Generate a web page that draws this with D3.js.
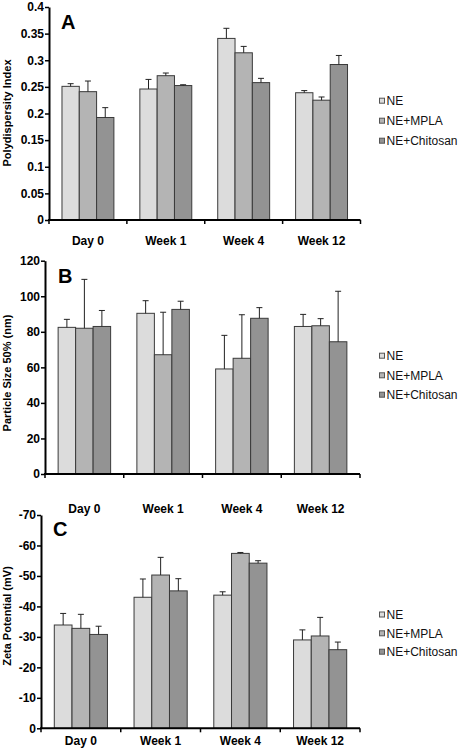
<!DOCTYPE html>
<html>
<head>
<meta charset="utf-8">
<script src="https://cdn.jsdelivr.net/npm/d3@7/dist/d3.min.js"></script>
<style>
  html, body { margin: 0; padding: 0; background: #fff; }
  svg { display: block; font-family: "Liberation Sans", Arial, sans-serif; }
</style>
</head>
<body>
<svg id="chart" width="458" height="750"></svg>
<script>
// ---------- DATA ----------
const categories = ["Day 0", "Week 1", "Week 4", "Week 12"];
const seriesNames = ["NE", "NE+MPLA", "NE+Chitosan"];

// Panel A: Polydispersity Index (rows = series, cols = categories)
const pdiMean = [
  [0.251, 0.246, 0.341, 0.239],
  [0.241, 0.271, 0.314, 0.225],
  [0.1925, 0.2525, 0.258, 0.292]
];
const pdiErr = [
  [0.005, 0.018, 0.019, 0.004],
  [0.020, 0.005, 0.012, 0.006],
  [0.0185, 0.0015, 0.008, 0.017]
];
const pdiTicks = [0, 0.05, 0.1, 0.15, 0.2, 0.25, 0.3, 0.35, 0.4];

// Panel B: Particle Size 50% (nm)
const sizeMean = [
  [82.5, 90.4, 59.1, 83.0],
  [82.0, 67.1, 65.1, 83.4],
  [83.0, 92.6, 87.6, 74.4]
];
const sizeErr = [
  [4.5, 7.1, 18.9, 6.8],
  [27.5, 23.9, 24.5, 4.0],
  [9.0, 4.6, 6.0, 28.4]
];
const sizeTicks = [0, 20, 40, 60, 80, 100, 120];

// Panel C: Zeta Potential (mV)
const zetaMean = [
  [-33.9, -43.0, -43.7, -29.0],
  [-32.8, -50.3, -57.4, -30.3],
  [-30.8, -45.1, -54.2, -25.8]
];
const zetaErr = [
  [3.8, 6.0, 1.1, 3.3],
  [4.6, 5.8, 0.3, 6.1],
  [2.7, 4.0, 0.8, 2.5]
];
const zetaTicks = [0, -10, -20, -30, -40, -50, -60, -70];

// ---------- STYLE / LAYOUT ----------
const colors = ["#dcdcdc", "#b4b4b4", "#939393"];

const panels = [
  { letter: "A", title: "Polydispersity Index", mean: pdiMean, err: pdiErr, ticks: pdiTicks,
    domain: [0, 0.4], fmt: d => String(+d.toFixed(2)),
    left: 49, right: 360.5, top: 7, bottom: 220, catY: 244.6, titleY: 113,
    letterX: 61, letterY: 29, legendY: [100.7, 120.7, 140.7] },
  { letter: "B", title: "Particle Size 50% (nm)", mean: sizeMean, err: sizeErr, ticks: sizeTicks,
    domain: [0, 120], fmt: d => String(d),
    left: 45, right: 360, top: 260.7, bottom: 474, catY: 512.6, titleY: 373,
    letterX: 58, letterY: 283, legendY: [355.7, 375.3, 394.7] },
  { letter: "C", title: "Zeta Potential (mV)", mean: zetaMean, err: zetaErr, ticks: zetaTicks,
    domain: [0, -70], fmt: d => String(d),
    left: 41, right: 360, top: 515, bottom: 728.3, catY: 744.6, titleY: 616,
    letterX: 53, letterY: 535.5, legendY: [614.5, 633.3, 651.7] }
];

const svg = d3.select("#chart");

panels.forEach(p => {
  const g = svg.append("g");
  const y = d3.scaleLinear().domain(p.domain).range([p.bottom, p.top]);
  const x0 = d3.scaleBand().domain(categories).range([p.left, p.right])
    .paddingInner(1/3).paddingOuter(1/6);
  const x1 = d3.scaleBand().domain(seriesNames).range([0, x0.bandwidth()]);
  const sign = p.domain[1] < 0 ? -1 : 1;

  // bars
  seriesNames.forEach((s, si) => {
    categories.forEach((c, ci) => {
      const v = p.mean[si][ci];
      const bx = x0(c) + x1(s);
      const bw = x1.bandwidth();
      g.append("rect")
        .attr("x", bx).attr("width", bw)
        .attr("y", y(v)).attr("height", y(0) - y(v))
        .attr("fill", colors[si])
        .attr("stroke", "#3a3a3a").attr("stroke-width", 1);
      // error bar (upper only)
      const e = v + sign * p.err[si][ci];
      const cx = bx + bw / 2;
      g.append("line").attr("x1", cx).attr("x2", cx).attr("y1", y(v)).attr("y2", y(e))
        .attr("stroke", "#222").attr("stroke-width", 1);
      g.append("line").attr("x1", cx - 3).attr("x2", cx + 3).attr("y1", y(e)).attr("y2", y(e))
        .attr("stroke", "#222").attr("stroke-width", 1);
    });
  });

  // y axis
  const yAxis = d3.axisLeft(y).tickValues(p.ticks).tickFormat(p.fmt)
    .tickSize(4).tickSizeOuter(0).tickPadding(1);
  const ya = g.append("g").attr("transform", `translate(${p.left},0)`).call(yAxis);
  ya.select(".domain").attr("stroke", "#000").attr("stroke-width", 2);
  ya.selectAll(".tick line").attr("stroke", "#000").attr("stroke-width", 1.5);
  ya.selectAll(".tick text").attr("fill", "#000")
    .style("font-size", "12px").style("font-weight", "bold");

  // x axis line and category boundary ticks
  g.append("line").attr("x1", p.left - 1).attr("x2", p.right)
    .attr("y1", y(0)).attr("y2", y(0)).attr("stroke", "#000").attr("stroke-width", 2);
  const step = x0.step();
  const bounds = categories.map(c => x0(c) - step * x0.paddingInner() / 2)
    .concat([x0(categories[categories.length - 1]) + x0.bandwidth() + step * x0.paddingInner() / 2]);
  bounds.forEach(bx => {
    g.append("line").attr("x1", bx).attr("x2", bx).attr("y1", y(0)).attr("y2", y(0) + 4)
      .attr("stroke", "#000").attr("stroke-width", 1.5);
  });
  categories.forEach(c => {
    g.append("text").attr("x", x0(c) + x0.bandwidth() / 2).attr("y", p.catY)
      .attr("text-anchor", "middle").style("font-size", "12px").style("font-weight", "bold")
      .text(c);
  });

  // y title
  g.append("text")
    .attr("transform", `translate(11,${p.titleY}) rotate(-90)`)
    .attr("text-anchor", "middle").style("font-size", "11px").style("font-weight", "bold")
    .text(p.title);

  // panel letter
  g.append("text").attr("x", p.letterX).attr("y", p.letterY)
    .style("font-size", "20px").style("font-weight", "bold").text(p.letter);

  // legend
  seriesNames.forEach((s, si) => {
    const ly = p.legendY[si];
    g.append("rect").attr("x", 379.5).attr("y", ly - 2.5).attr("width", 5).attr("height", 5)
      .attr("fill", colors[si]).attr("stroke", "#555").attr("stroke-width", 1);
    g.append("text").attr("x", 386.5).attr("y", ly + 4.3)
      .style("font-size", "12px").attr("fill", "#111").text(s);
  });
});
</script>
</body>
</html>
